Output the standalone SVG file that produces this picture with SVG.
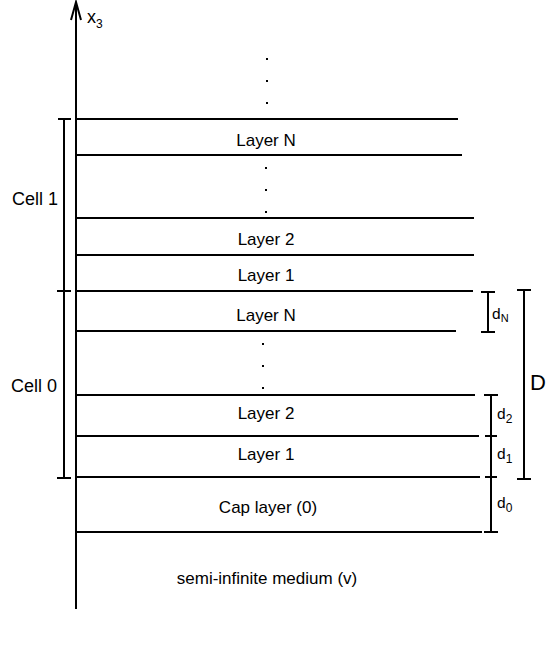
<svg xmlns="http://www.w3.org/2000/svg" width="548" height="645" viewBox="0 0 548 645">
<defs>
<style>
.ln{stroke:#000;stroke-width:2;fill:none}
.t{font-family:"Liberation Sans",Arial,sans-serif;font-size:17px;fill:#000;text-anchor:middle}
.c{font-family:"Liberation Sans",Arial,sans-serif;font-size:18px;fill:#000;text-anchor:middle}
.s{font-family:"Liberation Sans",Arial,sans-serif;fill:#000}
.dot{fill:#000}
</style>
</defs>
<rect width="548" height="645" fill="#fff"/>
<g id="connectors">
<line id="axis" class="ln" x1="76" y1="609" x2="76" y2="3"/>
<path class="ln" d="M71,20 L76,2 L81,20" stroke-width="1.8"/>
<line class="ln" x1="77" y1="119" x2="458" y2="119"/>
<line class="ln" x1="77" y1="155" x2="462" y2="155"/>
<line class="ln" x1="77" y1="218" x2="474" y2="218"/>
<line class="ln" x1="77" y1="255" x2="474" y2="255"/>
<line class="ln" x1="77" y1="291" x2="473" y2="291"/>
<line class="ln" x1="77" y1="331" x2="456" y2="331"/>
<line class="ln" x1="77" y1="395" x2="475" y2="395"/>
<line class="ln" x1="77" y1="436" x2="479" y2="436"/>
<line class="ln" x1="77" y1="477" x2="480" y2="477"/>
<line class="ln" x1="77" y1="532" x2="482" y2="532"/>
<!-- cell brackets -->
<line class="ln" x1="64" y1="119" x2="64" y2="478"/>
<line class="ln" x1="58" y1="119" x2="71" y2="119"/>
<line class="ln" x1="57" y1="291" x2="71" y2="291"/>
<line class="ln" x1="57" y1="478" x2="71" y2="478"/>
<!-- dN -->
<line class="ln" x1="488" y1="292" x2="488" y2="332"/>
<line class="ln" x1="481" y1="292" x2="495" y2="292"/>
<line class="ln" x1="481" y1="332" x2="495" y2="332"/>
<!-- D -->
<line class="ln" x1="524" y1="290" x2="524" y2="479"/>
<line class="ln" x1="517" y1="290" x2="531" y2="290"/>
<line class="ln" x1="517" y1="479" x2="531" y2="479"/>
<!-- d2 d1 d0 -->
<line class="ln" x1="491" y1="395" x2="491" y2="532"/>
<line class="ln" x1="484" y1="395" x2="498" y2="395"/>
<line class="ln" x1="485" y1="436" x2="497" y2="436"/>
<line class="ln" x1="485" y1="477" x2="497" y2="477"/>
<line class="ln" x1="484" y1="532" x2="498" y2="532"/>
</g>
<g id="dots">
<rect class="dot" x="266" y="58" width="2" height="2"/>
<rect class="dot" x="266" y="80" width="2" height="2"/>
<rect class="dot" x="266" y="102" width="2" height="2"/>
<rect class="dot" x="265" y="167" width="2" height="2"/>
<rect class="dot" x="265" y="189" width="2" height="2"/>
<rect class="dot" x="265" y="211" width="2" height="2"/>
<rect class="dot" x="262" y="343" width="2" height="2"/>
<rect class="dot" x="262" y="365" width="2" height="2"/>
<rect class="dot" x="262" y="387" width="2" height="2"/>
</g>
<g id="axis-label"><text class="s" x="87" y="23" font-size="18">x<tspan font-size="12" dy="5">3</tspan></text></g>
<g id="layerN-1"><text class="t" x="266" y="146">Layer N</text></g>
<g id="layer2-1"><text class="t" x="266" y="245">Layer 2</text></g>
<g id="layer1-1"><text class="t" x="266" y="281">Layer 1</text></g>
<g id="layerN-0"><text class="t" x="266" y="321">Layer N</text></g>
<g id="layer2-0"><text class="t" x="266" y="419">Layer 2</text></g>
<g id="layer1-0"><text class="t" x="266" y="460">Layer 1</text></g>
<g id="cap"><text class="t" x="268" y="513">Cap layer (0)</text></g>
<g id="medium"><text class="t" x="267" y="584">semi-infinite medium (v)</text></g>
<g id="cell1"><text class="c" x="35" y="205">Cell 1</text></g>
<g id="cell0"><text class="c" x="34" y="392">Cell 0</text></g>
<g id="dN"><text class="s" x="492" y="319" font-size="15.5">d<tspan font-size="11" dy="3">N</tspan></text></g>
<g id="d2"><text class="s" x="497" y="419" font-size="15.5">d<tspan font-size="12" dy="4">2</tspan></text></g>
<g id="d1"><text class="s" x="497" y="459" font-size="15.5">d<tspan font-size="12" dy="4">1</tspan></text></g>
<g id="d0"><text class="s" x="497" y="508" font-size="15.5">d<tspan font-size="12" dy="4">0</tspan></text></g>
<g id="D"><text class="s" x="530" y="390" font-size="22">D</text></g>
</svg>
